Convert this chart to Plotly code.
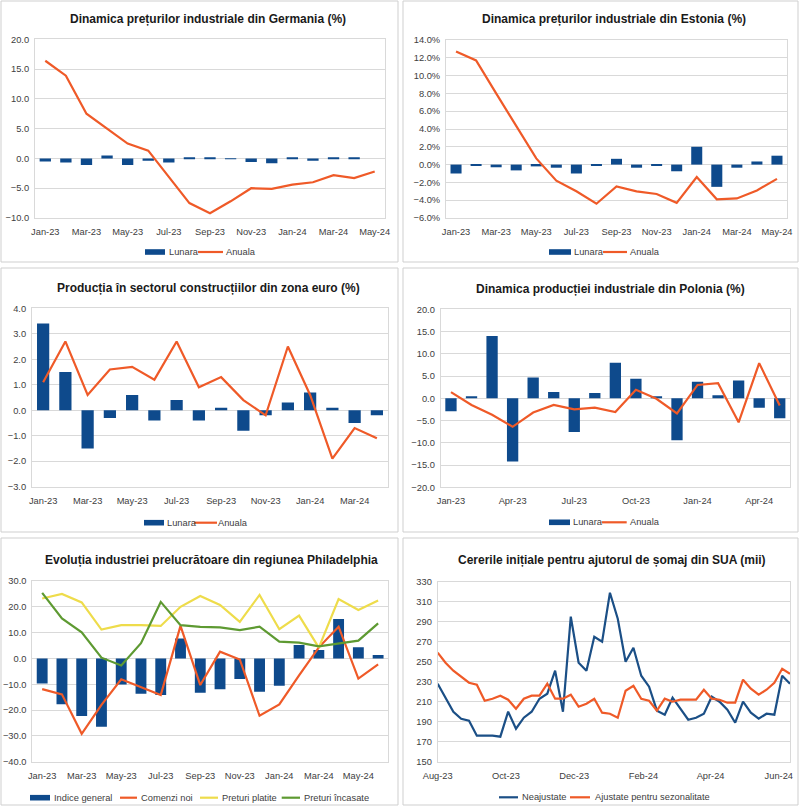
import plotly.graph_objects as go
import pandas as pd

W, H = 800, 806
FONT = "Liberation Sans, Arial, sans-serif"
BAR = "#0E4A8C"
ORANGE = "#EF5A28"
YELLOW = "#EEDC4B"
GREEN = "#5E9A32"
NAVY = "#1B4F86"
GRID = "#D9D9D9"
TXT = "#404040"
TFS = 9.3

# ---------------- data ----------------
months_17 = ["Jan-23", "Feb-23", "Mar-23", "Apr-23", "May-23", "Jun-23", "Jul-23", "Aug-23",
             "Sep-23", "Oct-23", "Nov-23", "Dec-23", "Jan-24", "Feb-24", "Mar-24", "Apr-24", "May-24"]
months_16 = months_17[:16]
months_18 = months_17 + ["Jun-24"]

# Germany industrial prices
de_lunara = [-0.5, -0.7, -1.1, 0.5, -1.1, -0.4, -0.7, 0.2, 0.1, -0.1, -0.6, -0.8, 0.2, -0.4, 0.2, 0.2, 0.0]
de_anuala = [16.4, 13.9, 7.5, 5.0, 2.5, 1.3, -3.0, -7.5, -9.2, -7.2, -5.0, -5.1, -4.4, -4.0, -2.8, -3.3, -2.2]

# Estonia industrial prices (%)
ee_lunara = [-1.0, -0.1, -0.3, -0.65, -0.2, -0.35, -1.0, -0.05, 0.65, -0.35, -0.05, -0.75, 2.0, -2.5, -0.35, 0.35, 1.0]
ee_anuala = [12.7, 11.7, 8.0, 4.3, 0.7, -1.8, -3.0, -4.4, -2.45, -3.0, -3.3, -4.3, -1.4, -3.9, -3.8, -2.9, -1.6]

# Euro area construction output
ez_lunara = [3.4, 1.5, -1.5, -0.3, 0.6, -0.4, 0.4, -0.4, 0.1, -0.8, -0.2, 0.3, 0.7, 0.1, -0.5, -0.2]
ez_anuala = [1.1, 2.7, 0.6, 1.6, 1.7, 1.2, 2.7, 0.9, 1.3, 0.4, -0.2, 2.5, 0.6, -1.9, -0.7, -1.1]

# Poland industrial production
pl_lunara = [-2.9, 0.4, 14.0, -14.2, 4.7, 1.4, -7.6, 1.2, 8.0, 4.4, 0.3, -9.4, 3.7, 0.7, 4.0, -2.1, -4.5]
pl_anuala = [1.4, -1.5, -3.7, -6.4, -3.2, -1.5, -2.5, -2.1, -3.1, 1.9, -0.1, -3.4, 3.0, 3.4, -5.4, 7.9, -1.6]

# Philadelphia Fed manufacturing
ph_indice = [-9.7, -17.7, -22.3, -26.5, -10.1, -13.7, -14.2, 7.7, -13.3, -11.9, -8.0, -12.9, -10.6, 5.2, 3.3, 15.3, 4.3, 1.3]
ph_comenzi = [-11.9, -13.9, -29.2, -18.0, -8.1, -11.0, -14.2, 12.6, -10.3, 2.6, -0.4, -22.2, -17.8, -6.6, 4.3, 12.3, -7.8, -2.3]
ph_platite = [23.2, 25.0, 21.7, 11.2, 12.9, 12.9, 12.6, 20.0, 24.2, 20.7, 14.2, 24.6, 11.3, 16.6, 4.2, 23.0, 18.8, 22.4]
ph_incasate = [25.4, 15.5, 10.1, 0.3, -2.7, 5.9, 21.9, 12.9, 12.2, 12.0, 11.0, 12.3, 6.5, 6.1, 4.7, 5.8, 6.9, 13.6]

# US initial jobless claims (thousands), weekly
us_neajustate = [228, 214, 200, 193, 191, 176, 176, 176, 175, 200,
                 183, 194, 200, 213, 218, 241, 200, 295, 249, 241,
                 275, 270, 319, 293, 250, 264, 236, 225, 201, 197,
                 214, 203, 192, 194, 198, 215, 210, 202, 189, 210,
                 199, 193, 198, 197, 236, 228]
us_ajustate = [259, 249, 241, 235, 229, 227, 211, 213, 216, 212,
               203, 213, 216, 216, 228, 213, 213, 217, 205, 208,
               213, 199, 198, 194, 221, 226, 213, 211, 201, 213,
               210, 212, 212, 212, 222, 213, 212, 209, 209, 232,
               223, 217, 222, 229, 243, 238]
us_dates = pd.date_range(start="2023-08-05", periods=len(us_neajustate), freq="7D")
us_tickvals = ["2023-08-05", "2023-10-05", "2023-12-05", "2024-02-05", "2024-04-05", "2024-06-05"]
us_ticktext = ["Aug-23", "Oct-23", "Dec-23", "Feb-24", "Apr-24", "Jun-24"]

titles = [
    "Dinamica prețurilor industriale din Germania (%)",
    "Dinamica prețurilor industriale din Estonia (%)",
    "Producția în sectorul construcțiilor din zona euro (%)",
    "Dinamica producției industriale din Polonia (%)",
    "Evoluția industriei prelucrătoare din regiunea Philadelphia",
    "Cererile inițiale pentru ajutorul de șomaj din SUA (mii)",
]

# ---------------- helpers ----------------
def fx(x):
    return x / W


def fy(y):
    return 1 - y / H


fig = go.Figure()

# plot areas in pixels: (left, right, top, bottom)
areas = [
    (35, 385, 39.3, 218),
    (446, 787, 40, 218),
    (32, 388, 308.3, 486.7),
    (440.7, 790, 309.3, 487.3),
    (32.3, 388, 581, 761.7),
    (437.7, 790, 581.7, 761.7),
]

yspecs = [
    dict(range=[-10, 20], dtick=5, tickformat=".1f", ticksuffix=""),
    dict(range=[-6, 14], dtick=2, tickformat=".1f", ticksuffix="%"),
    dict(range=[-3, 4], dtick=1, tickformat=".1f", ticksuffix=""),
    dict(range=[-20, 20], dtick=5, tickformat=".1f", ticksuffix=""),
    dict(range=[-40, 30], dtick=10, tickformat=".1f", ticksuffix=""),
    dict(range=[150, 330], dtick=20, tickformat="d", ticksuffix=""),
]

xcats = [months_17, months_17, months_16, months_17, months_18, None]
xtickvals = [months_17[::2], months_17[::2], months_16[::2], months_17[::3], months_18[::2], None]

layout_axes = {}
for i in range(6):
    l, r, t, b = areas[i]
    n = "" if i == 0 else str(i + 1)
    xa = dict(domain=[fx(l), fx(r)], anchor="y" + n, showgrid=False, showline=True,
              linecolor=GRID, linewidth=1, mirror=True, zeroline=False, automargin=False,
              ticks="outside", ticklen=5, tickcolor="rgba(0,0,0,0)",
              tickfont=dict(family=FONT, size=TFS, color=TXT), fixedrange=True)
    if xcats[i] is not None:
        xa.update(type="category", categoryorder="array", categoryarray=xcats[i],
                  tickmode="array", tickvals=xtickvals[i], ticktext=xtickvals[i],
                  range=[-0.5, len(xcats[i]) - 0.5])
    else:
        xa.update(type="date", range=[us_dates[0], us_dates[-1]], tickmode="array",
                  tickvals=us_tickvals, ticktext=us_ticktext)
    ys = yspecs[i]
    ya = dict(domain=[fy(b), fy(t)], anchor="x" + n, range=ys["range"], dtick=ys["dtick"],
              tick0=ys["range"][0], tickformat=ys["tickformat"], ticksuffix=ys["ticksuffix"],
              showgrid=True, gridcolor=GRID, gridwidth=1, showline=True, linecolor=GRID,
              linewidth=1, mirror=True, zeroline=False, automargin=False, ticks="outside", ticklen=3,
              tickcolor="rgba(0,0,0,0)", tickfont=dict(family=FONT, size=TFS, color=TXT),
              fixedrange=True)
    layout_axes["xaxis" + n] = xa
    layout_axes["yaxis" + n] = ya


def add_bar(i, x, y, name):
    n = "" if i == 0 else str(i + 1)
    fig.add_trace(go.Bar(x=x, y=y, name=name, marker=dict(color=BAR, line=dict(width=0)),
                         xaxis="x" + n, yaxis="y" + n, showlegend=False))


def add_line(i, x, y, name, color):
    n = "" if i == 0 else str(i + 1)
    fig.add_trace(go.Scatter(x=x, y=y, name=name, mode="lines",
                             line=dict(color=color, width=2.2),
                             xaxis="x" + n, yaxis="y" + n, showlegend=False))


add_bar(0, months_17, de_lunara, "Lunara")
add_line(0, months_17, de_anuala, "Anuala", ORANGE)
add_bar(1, months_17, ee_lunara, "Lunara")
add_line(1, months_17, ee_anuala, "Anuala", ORANGE)
add_bar(2, months_16, ez_lunara, "Lunara")
add_line(2, months_16, ez_anuala, "Anuala", ORANGE)
add_bar(3, months_17, pl_lunara, "Lunara")
add_line(3, months_17, pl_anuala, "Anuala", ORANGE)
add_bar(4, months_18, ph_indice, "Indice general")
add_line(4, months_18, ph_comenzi, "Comenzi noi", ORANGE)
add_line(4, months_18, ph_platite, "Preturi platite", YELLOW)
add_line(4, months_18, ph_incasate, "Preturi încasate", GREEN)
add_line(5, us_dates, us_neajustate, "Neajustate", NAVY)
add_line(5, us_dates, us_ajustate, "Ajustate pentru sezonalitate", ORANGE)

shapes = []
annotations = []

# panel borders
for (x0, y0, x1, y1) in [(1, 1, 398, 262), (403, 1, 798, 262), (1, 268, 398, 532),
                         (403, 268, 798, 532), (1, 538, 398, 805), (403, 538, 798, 805)]:
    shapes.append(dict(type="rect", xref="paper", yref="paper", x0=fx(x0), x1=fx(x1),
                       y0=fy(y1), y1=fy(y0), line=dict(color="#CFCFCF", width=1),
                       fillcolor="rgba(0,0,0,0)", layer="below"))

# titles
title_pos = [(208, 19), (613.7, 19), (208, 288), (610.5, 289), (211, 560), (611.7, 560)]
for (tx, ty), txt in zip(title_pos, titles):
    annotations.append(dict(text="<b>" + txt + "</b>", x=fx(tx), y=fy(ty), xref="paper", yref="paper",
                            xanchor="center", yanchor="middle", showarrow=False,
                            font=dict(family=FONT, size=12, color="#1A1A1A")))


def leg_bar(x0, x1, y):
    shapes.append(dict(type="rect", xref="paper", yref="paper", x0=fx(x0), x1=fx(x1),
                       y0=fy(y + 2.8), y1=fy(y - 2.8), fillcolor=BAR, line=dict(width=0)))


def leg_line(x0, x1, y, color):
    shapes.append(dict(type="line", xref="paper", yref="paper", x0=fx(x0), x1=fx(x1),
                       y0=fy(y), y1=fy(y), line=dict(color=color, width=2.2)))


def leg_text(x, y, txt):
    annotations.append(dict(text=txt, x=fx(x), y=fy(y), xref="paper", yref="paper",
                            xanchor="left", yanchor="middle", showarrow=False,
                            font=dict(family=FONT, size=TFS, color=TXT)))


# legends
leg_bar(145, 165, 252); leg_text(167, 252, "Lunara")
leg_line(198, 223, 252, ORANGE); leg_text(224, 252, "Anuala")
leg_bar(549, 571, 252); leg_text(572, 252, "Lunara")
leg_line(603, 627, 252, ORANGE); leg_text(628, 252, "Anuala")
leg_bar(144, 164, 522.7); leg_text(165, 522.7, "Lunara")
leg_line(194, 217, 522.7, ORANGE); leg_text(216, 522.7, "Anuala")
leg_bar(549, 570, 522.3); leg_text(571, 522.3, "Lunara")
leg_line(601.7, 626.7, 522.3, ORANGE); leg_text(628, 522.3, "Anuala")
leg_bar(30, 50, 797.7); leg_text(52, 797.7, "Indice general")
leg_line(120, 137, 797.7, ORANGE); leg_text(139, 797.7, "Comenzi noi")
leg_line(200, 218, 797.7, YELLOW); leg_text(220, 797.7, "Preturi platite")
leg_line(281.7, 300, 797.7, GREEN); leg_text(302, 797.7, "Preturi încasate")
leg_line(499, 518, 797.3, NAVY); leg_text(520, 797.3, "Neajustate")
leg_line(570, 590, 797.3, ORANGE); leg_text(593, 797.3, "Ajustate pentru sezonalitate")

fig.update_layout(
    width=W, height=H, autosize=False,
    margin=dict(l=0, r=0, t=0, b=0, autoexpand=False),
    paper_bgcolor="white", plot_bgcolor="white",
    bargap=0.45, showlegend=False,
    font=dict(family=FONT, size=TFS, color=TXT),
    shapes=shapes, annotations=annotations,
    **layout_axes,
)

fig.write_html("out.html", config={"displayModeBar": False},
               post_script="document.body.style.margin='0';document.body.style.padding='0';"
                           "document.documentElement.style.overflow='hidden';")
